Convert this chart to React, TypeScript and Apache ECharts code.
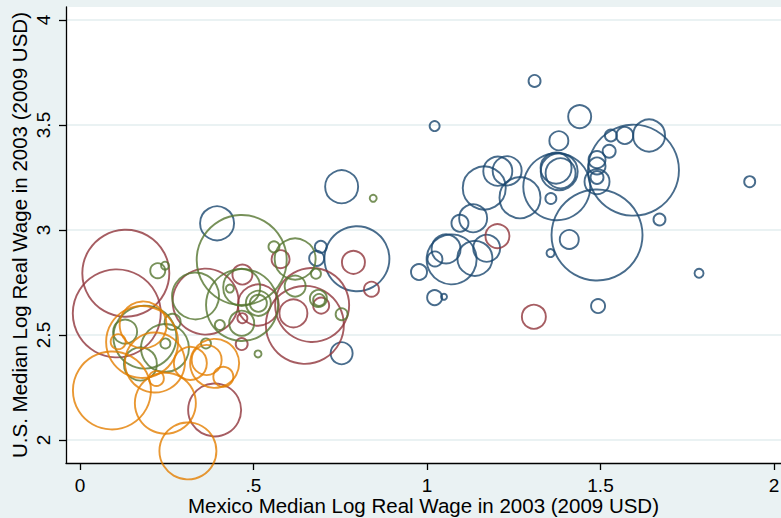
import React, { useEffect, useRef } from "react";
import * as echarts from "echarts";

// [mexicoLogWage, usLogWage, markerDiameter]
const navyPoints: number[][] = [
  [1.31, 3.71, 12], [1.44, 3.54, 23], [1.38, 3.425, 19], [1.64, 3.45, 32],
  [1.57, 3.45, 17], [1.53, 3.45, 12], [1.525, 3.375, 13], [1.595, 3.285, 91],
  [1.49, 3.335, 17], [1.49, 3.305, 17], [1.49, 3.25, 13], [1.49, 3.23, 25],
  [1.381, 3.278, 37], [1.372, 3.295, 31], [1.385, 3.27, 30], [1.374, 3.206, 67],
  [1.357, 3.15, 11], [1.67, 3.05, 12], [1.93, 3.23, 11], [1.49, 2.976, 91],
  [1.41, 2.955, 19], [1.356, 2.89, 8], [1.784, 2.794, 9], [1.493, 2.638, 14],
  [1.022, 3.495, 10], [1.165, 3.2, 43], [1.204, 3.28, 29], [1.231, 3.282, 29],
  [1.268, 3.154, 41], [1.133, 3.056, 28], [1.095, 3.032, 17], [1.055, 2.91, 29],
  [1.071, 2.86, 50], [1.023, 2.862, 15], [1.138, 2.865, 35], [1.172, 2.913, 27],
  [0.977, 2.8, 16], [1.022, 2.678, 15], [1.049, 2.682, 6], [0.754, 3.206, 33],
  [0.798, 2.863, 65], [0.694, 2.92, 12], [0.682, 2.865, 15], [0.754, 2.413, 22],
  [0.395, 3.032, 34],
];

const maroonPoints: number[][] = [
  [1.203, 2.971, 24], [1.308, 2.587, 24], [0.788, 2.846, 23], [0.84, 2.718, 15],
  [0.578, 2.861, 18], [0.468, 2.788, 20], [0.514, 2.643, 41], [0.468, 2.58, 10],
  [0.466, 2.457, 12], [0.669, 2.643, 74], [0.648, 2.548, 78], [0.615, 2.603, 28],
  [0.695, 2.64, 16], [0.132, 2.794, 87], [0.106, 2.603, 88], [0.362, 2.659, 66],
  [0.388, 2.143, 53],
];

const greenPoints: number[][] = [
  [0.845, 3.151, 7], [0.466, 2.857, 90], [0.559, 2.92, 11], [0.62, 2.862, 41],
  [0.62, 2.733, 21], [0.68, 2.792, 10], [0.687, 2.674, 17], [0.689, 2.667, 12],
  [0.754, 2.599, 12], [0.224, 2.806, 15], [0.245, 2.83, 8], [0.333, 2.686, 47],
  [0.432, 2.721, 8], [0.467, 2.643, 72], [0.466, 2.727, 37], [0.514, 2.651, 25],
  [0.514, 2.651, 17], [0.466, 2.556, 25], [0.403, 2.548, 10], [0.513, 2.41, 7],
  [0.13, 2.516, 24], [0.187, 2.49, 63], [0.245, 2.438, 48], [0.246, 2.46, 10],
  [0.174, 2.362, 33], [0.363, 2.46, 10], [0.267, 2.563, 16],
];

const orangePoints: number[][] = [
  [0.182, 2.548, 47], [0.179, 2.467, 72], [0.11, 2.468, 15], [0.216, 2.369, 60],
  [0.22, 2.293, 15], [0.092, 2.236, 78], [0.246, 2.175, 61], [0.311, 1.948, 57],
  [0.318, 2.365, 33], [0.365, 2.381, 30], [0.388, 2.365, 49], [0.413, 2.301, 20],
];

const xTicks = [0, 0.5, 1, 1.5, 2];
const xTickLabels = ["0", ".5", "1", "1.5", "2"];
const yTicks = [2, 2.5, 3, 3.5, 4];
const yTickLabels = ["2", "2.5", "3", "3.5", "4"];

const FONT = "'Liberation Sans', Arial, Helvetica, sans-serif";

function makeSeries(data: number[][], color: string) {
  return {
    type: "scatter",
    data: data,
    symbol: "circle",
    symbolSize: (v: number[]) => v[2],
    clip: false,
    itemStyle: { color: "rgba(0,0,0,0)", borderColor: color, borderWidth: 1.9 },
    emphasis: { disabled: true },
    silent: true,
  };
}

export default function App() {
  const ref = useRef<HTMLDivElement>(null);
  useEffect(() => {
    if (!ref.current) return;
    const chart = echarts.init(ref.current, undefined, { renderer: "svg" });
    const xLabelMap: Record<string, string> = {};
    xTicks.forEach((t, i) => (xLabelMap[String(t)] = xTickLabels[i]));
    const yLabelMap: Record<string, string> = {};
    yTicks.forEach((t, i) => (yLabelMap[String(t)] = yTickLabels[i]));
    chart.setOption({
      animation: false,
      backgroundColor: "#eaf2f3",
      textStyle: { fontFamily: FONT },
      grid: {
        left: 66,
        right: 0,
        top: 7,
        bottom: 55,
        containLabel: false,
        outerBoundsMode: "none",
        show: true,
        backgroundColor: "#ffffff",
        borderWidth: 0,
      },
      xAxis: {
        type: "value",
        min: -0.04035,
        max: 2.0202,
        name: "Mexico Median Log Real Wage in 2003 (2009 USD)",
        nameLocation: "middle",
        nameGap: 32,
        nameMoveOverlap: false,
        nameTextStyle: { fontSize: 20.5, color: "#000", fontFamily: FONT },
        axisLine: { show: true, onZero: false, lineStyle: { color: "#000", width: 1.3 } },
        axisTick: { show: true, length: 7, customValues: xTicks, lineStyle: { color: "#000", width: 1.3 } },
        axisLabel: {
          customValues: xTicks,
          fontSize: 19,
          color: "#000",
          margin: 13,
          fontFamily: FONT,
          formatter: (v: number) => xLabelMap[String(v)] ?? String(v),
        },
        splitLine: { show: false },
      },
      yAxis: {
        type: "value",
        min: 1.8905,
        max: 4.0619,
        name: "U.S. Median Log Real Wage in 2003 (2009 USD)",
        nameLocation: "middle",
        nameGap: 36,
        nameMoveOverlap: false,
        nameTextStyle: { fontSize: 20.5, color: "#000", fontFamily: FONT },
        axisLine: { show: true, onZero: false, lineStyle: { color: "#000", width: 1.3 } },
        axisTick: { show: true, length: 7, customValues: yTicks, lineStyle: { color: "#000", width: 1.3 } },
        axisLabel: {
          customValues: yTicks,
          rotate: 90,
          fontSize: 19,
          color: "#000",
          margin: 13,
          fontFamily: FONT,
          formatter: (v: number) => yLabelMap[String(v)] ?? String(v),
        },
        splitLine: { show: true, lineStyle: { color: "#eaf2f3", width: 2 } },
      },
      series: [
        makeSeries(navyPoints, "#1a476f"),
        makeSeries(maroonPoints, "#90353b"),
        makeSeries(greenPoints, "#55752f"),
        makeSeries(orangePoints, "#e37e00"),
      ],
    });
    return () => chart.dispose();
  }, []);
  return (
    <div
      ref={ref}
      style={{ position: "absolute", left: 0, top: 0, width: 781, height: 518 }}
    />
  );
}
